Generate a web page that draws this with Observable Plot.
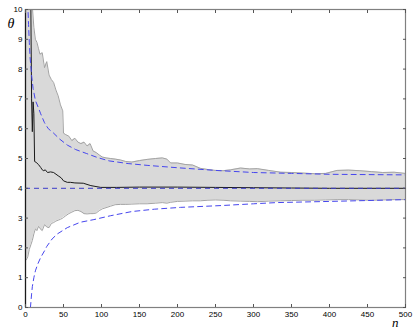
<!DOCTYPE html>
<html>
<head>
<meta charset="utf-8">
<script src="https://cdn.jsdelivr.net/npm/d3@7"></script>
<script src="https://cdn.jsdelivr.net/npm/@observablehq/plot@0.6"></script>
<style>
  html, body { margin: 0; padding: 0; background: #fff; }
</style>
</head>
<body>
<div id="chart"></div>
<script>
// Shaded band: sample size n, upper and lower edges
const bandN = [1,3,5,7,9,11,13,15,17,19,22,25,28,31,34,37,40,43,46,49,50,53,57,61,65,69,73,77,81,85,89,93,97,101,106,112,118,125,132,140,150,160,171,180,186,191,200,210,220,230,240,250,260,270,283,295,305,320,336,350,365,380,395,410,425,440,455,470,485,500];
const bandUpper = [14,13,12,11,10.1,9.4,9.0,8.9,8.7,8.5,8.55,8.05,8.25,7.8,7.65,7.55,7.3,7.1,6.8,6.6,5.85,5.8,5.75,5.6,5.68,5.55,5.5,5.55,5.42,5.5,5.25,5.2,5.12,5.05,5.02,5.0,4.98,4.95,4.9,4.88,4.93,4.97,5.0,5.02,4.98,4.85,4.85,4.8,4.78,4.67,4.63,4.6,4.59,4.62,4.68,4.65,4.66,4.6,4.54,4.53,4.51,4.49,4.5,4.6,4.61,4.59,4.56,4.53,4.54,4.5];
const bandLower = [1.6,1.7,1.95,2.1,2.25,2.47,2.64,2.58,2.72,2.65,2.58,2.78,2.7,2.68,2.82,2.85,2.9,2.93,2.96,3.0,3.02,3.08,3.15,3.2,3.25,3.26,3.22,3.15,3.14,3.15,3.15,3.17,3.25,3.31,3.35,3.4,3.45,3.46,3.46,3.47,3.48,3.48,3.5,3.52,3.5,3.53,3.56,3.57,3.58,3.58,3.6,3.61,3.6,3.58,3.57,3.56,3.55,3.57,3.58,3.59,3.6,3.6,3.61,3.62,3.62,3.61,3.6,3.61,3.62,3.62];

// Estimate (black line)
const estN = [3,6,7,8,9,10,11,12,14,17,20,22,24,26,29,33,37,43,47,50,55,59,65,76,86,99,120,150,200,250,300,350,400,500];
const estTheta = [14,11,10.2,7.0,5.9,6.9,6.5,4.9,4.87,4.8,4.7,4.62,4.59,4.62,4.53,4.55,4.53,4.42,4.35,4.25,4.2,4.2,4.18,4.17,4.09,4.03,4.03,4.04,4.04,4.03,4.02,4.01,4.0,4.0];

// Blue dashed bounds
const upperBoundN = [3,4,5,6,8,10,13,17,20,25,30,37,45,55,66,80,95,110,135,160,200,250,300,350,400,450,500];
const upperBound = [10.2,9.5,8.9,8.4,7.8,7.35,6.95,6.7,6.5,6.2,6.0,5.85,5.65,5.45,5.3,5.17,5.03,4.92,4.83,4.77,4.69,4.6,4.53,4.5,4.47,4.46,4.45];
const lowerBoundN = [6.5,8,9,11,13,16,20,25,28,35,42,55,72,90,112,140,170,204,257,300,330,400,450,500];
const lowerBound = [0,0.45,0.7,1.0,1.23,1.45,1.68,1.9,2.05,2.3,2.47,2.68,2.86,2.95,3.08,3.22,3.3,3.36,3.42,3.48,3.52,3.56,3.59,3.62];

const trueTheta = 4;

const xTicks = [0,50,100,150,200,250,300,350,400,450,500];
const yTicks = [0,1,2,3,4,5,6,7,8,9,10];

const band = bandN.map((n, i) => ({n, hi: bandUpper[i], lo: bandLower[i]}));
const est = estN.map((n, i) => ({n, v: estTheta[i]}));
const ub = upperBoundN.map((n, i) => ({n, v: upperBound[i]}));
const lb = lowerBoundN.map((n, i) => ({n, v: lowerBound[i]}));

const blank = () => "";
const tickColor = "#555";

const chart = Plot.plot({
  width: 415,
  height: 332,
  marginLeft: 25,
  marginRight: 10,
  marginTop: 9,
  marginBottom: 25,
  x: {domain: [0, 500]},
  y: {domain: [0, 10]},
  style: {fontFamily: "'Liberation Sans', Arial, sans-serif", fontSize: "8px", background: "#fff", color: "#000"},
  marks: [
    Plot.areaY(band, {x: "n", y1: "lo", y2: "hi", fill: "#d9d9d9", clip: true}),
    Plot.line(band, {x: "n", y: "hi", stroke: "#a3a3a3", strokeWidth: 1, clip: true}),
    Plot.line(band, {x: "n", y: "lo", stroke: "#a3a3a3", strokeWidth: 1, clip: true}),
    Plot.line(est, {x: "n", y: "v", stroke: "#1a1a1a", strokeWidth: 1, clip: true}),
    Plot.ruleY([trueTheta], {stroke: "#3b3bc8", strokeWidth: 1, strokeDasharray: "5,4"}),
    Plot.line(ub, {x: "n", y: "v", stroke: "#4646ee", strokeWidth: 1, strokeDasharray: "5,4", clip: true}),
    Plot.line(lb, {x: "n", y: "v", stroke: "#4646ee", strokeWidth: 1, strokeDasharray: "5,4", clip: true}),
    Plot.frame({stroke: "#808080", strokeWidth: 1.2}),
    Plot.ruleX([0], {stroke: "#1a1a1a", strokeWidth: 1.2}),
    // tick labels
    Plot.axisX(xTicks, {anchor: "bottom", tickSize: 0, tickPadding: 4, label: null}),
    Plot.axisY(yTicks, {anchor: "left", tickSize: 0, tickPadding: 3, label: null}),
    // inward ticks on all four sides
    Plot.axisX(xTicks, {anchor: "bottom", tickSize: 3, dy: -3, tickFormat: blank, label: null, stroke: tickColor}),
    Plot.axisX(xTicks, {anchor: "top", tickSize: 3, dy: 3, tickFormat: blank, label: null, stroke: tickColor}),
    Plot.axisY(yTicks, {anchor: "left", tickSize: 3, dx: 3, tickFormat: blank, label: null, stroke: tickColor}),
    Plot.axisY(yTicks, {anchor: "right", tickSize: 3, dx: -3, tickFormat: blank, label: null, stroke: tickColor}),
    // axis titles
    Plot.text(["θ"], {text: d => d, frameAnchor: "top-left", dx: -18, dy: 9, fontFamily: "'Liberation Serif', 'DejaVu Serif', serif", fontStyle: "italic", fontSize: 14, fill: "#000"}),
    Plot.text(["n"], {text: d => d, frameAnchor: "bottom-right", dx: -7, dy: 19, fontFamily: "'Liberation Serif', 'DejaVu Serif', serif", fontStyle: "italic", fontSize: 13, fill: "#000"})
  ]
});

document.getElementById("chart").appendChild(chart);
</script>
</body>
</html>
